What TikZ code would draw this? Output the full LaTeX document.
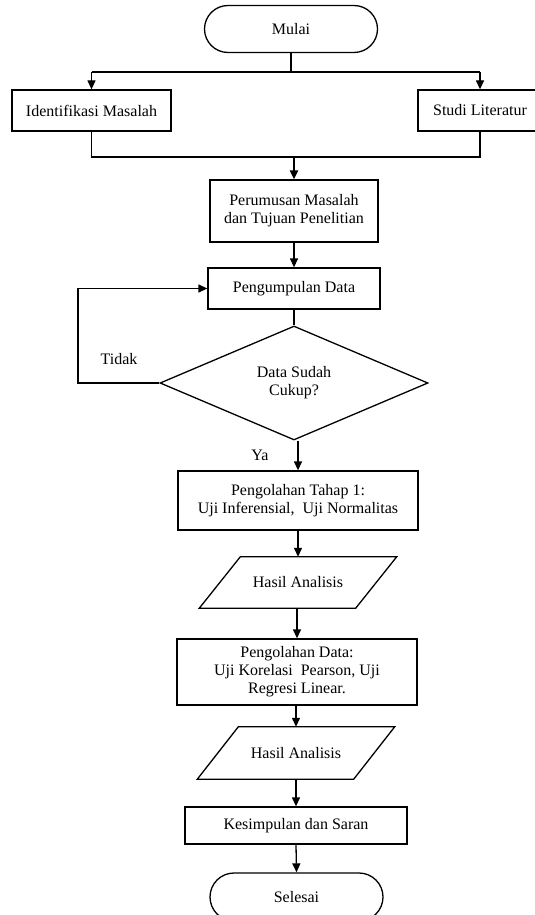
\documentclass[tikz,border=0pt]{standalone}
\usepackage{fontspec}
\setmainfont{Liberation Serif}
\usetikzlibrary{shapes.misc,shapes.geometric,arrows.meta}

\begin{document}
\begin{tikzpicture}[x=1pt,y=-1pt,
  every node/.style={font=\fontsize{16}{18}\selectfont},
  box/.style={draw, line width=1.3pt, rectangle, align=center, inner sep=2pt},
  term/.style={draw, line width=1.3pt, rounded rectangle, inner sep=2pt},
  dec/.style={draw, line width=1.3pt, diamond, align=center, inner sep=0pt},
  io/.style={rectangle, inner sep=2pt},
  link/.style={line width=1.3pt, line join=miter},
  arr/.style={link, -{Triangle[length=9pt,width=8pt]}},
  trunk/.style={line width=2.2pt},
  lbl/.style={inner sep=0pt}]
\clip (0,0) rectangle (535,915);
\fill[white] (0,0) rectangle (535,915);

% process steps
\node[term, minimum width=177pt, minimum height=47pt] (mulai) at (291,29) {Mulai};
\node[box, minimum width=159pt, minimum height=41pt] (ident) at (91.5,110.5) {Identifikasi Masalah};
\node[box, minimum width=124pt, minimum height=41pt] (studi) at (480,110.5) {Studi Literatur};
\node[box, minimum width=168pt, minimum height=62pt] (rumus) at (294,211) {Perumusan Masalah\\dan Tujuan Penelitian};
\node[box, minimum width=172pt, minimum height=41pt] (kumpul) at (294,288.5) {Pengumpulan Data};
\node[dec, minimum width=268pt, minimum height=114pt] (cukup) at (294,383) {Data Sudah\\Cukup?};
\node[box, minimum width=240pt, minimum height=59pt] (tahap) at (298,500.5) {Pengolahan Tahap 1:\\Uji Inferensial,~ Uji Normalitas};
\node[io, minimum width=156pt, minimum height=51pt] (hasila) at (298,582.5) {Hasil Analisis};
\node[box, minimum width=240pt, minimum height=66pt] (olah) at (297,672) {Pengolahan Data:\\Uji Korelasi~ Pearson, Uji\\Regresi Linear.};
\node[io, minimum width=156pt, minimum height=52pt] (hasilb) at (296,753) {Hasil Analisis};
\node[box, minimum width=222pt, minimum height=37pt] (simpul) at (296,825.5) {Kesimpulan dan Saran};
\node[term, minimum width=177pt, minimum height=48pt] (selesai) at (296.5,897) {Selesai};

% data (parallelogram) outlines
\foreach \n in {hasila,hasilb}
  \draw[link] ([xshift=-20.5pt]\n.south west) -- ([xshift=20.5pt]\n.north west)
    -- ([xshift=20.5pt]\n.north east) -- ([xshift=-20.5pt]\n.south east) -- cycle;

% branch to the two starting activities
\coordinate (split) at (291,72);
\draw[trunk] (mulai.south) -- (split);
\draw[link] (ident.north |- split) -- (studi.north |- split);
\draw[arr] (ident.north |- split) -- (ident.north);
\draw[arr] (studi.north |- split) -- (studi.north);

% merge into problem formulation
\coordinate (merge) at (rumus.north |- 0,157);
\draw[link] (ident.south) -- (ident.south |- merge) -- (studi.south |- merge) -- (studi.south);
\draw[arr, line width=2.2pt] (merge) -- (rumus.north);

\draw[arr] (rumus.south) -- (kumpul.north);
\draw[link] (kumpul.south) -- (cukup.north);

% "Tidak" loop back to data collection
\coordinate (back) at (78,383);
\draw[arr] (cukup.west) -- (back) -- (back |- kumpul.west) -- (kumpul.west);
\node[lbl] (tidak) at (119,359) {Tidak};

% "Ya" continues downwards
\draw[arr] (cukup.south -| tahap.north) -- (tahap.north);
\node[lbl] (ya) at (260,455) {Ya};

\draw[arr] (tahap.south) -- (hasila.north);
\draw[arr] (hasila.south -| olah.north) -- (olah.north);
\draw[arr] (olah.south -| hasilb.north) -- (hasilb.north);
\draw[arr] (hasilb.south) -- (simpul.north);
\draw[arr] (simpul.south) -- (selesai.north);
\end{tikzpicture}
\end{document}
